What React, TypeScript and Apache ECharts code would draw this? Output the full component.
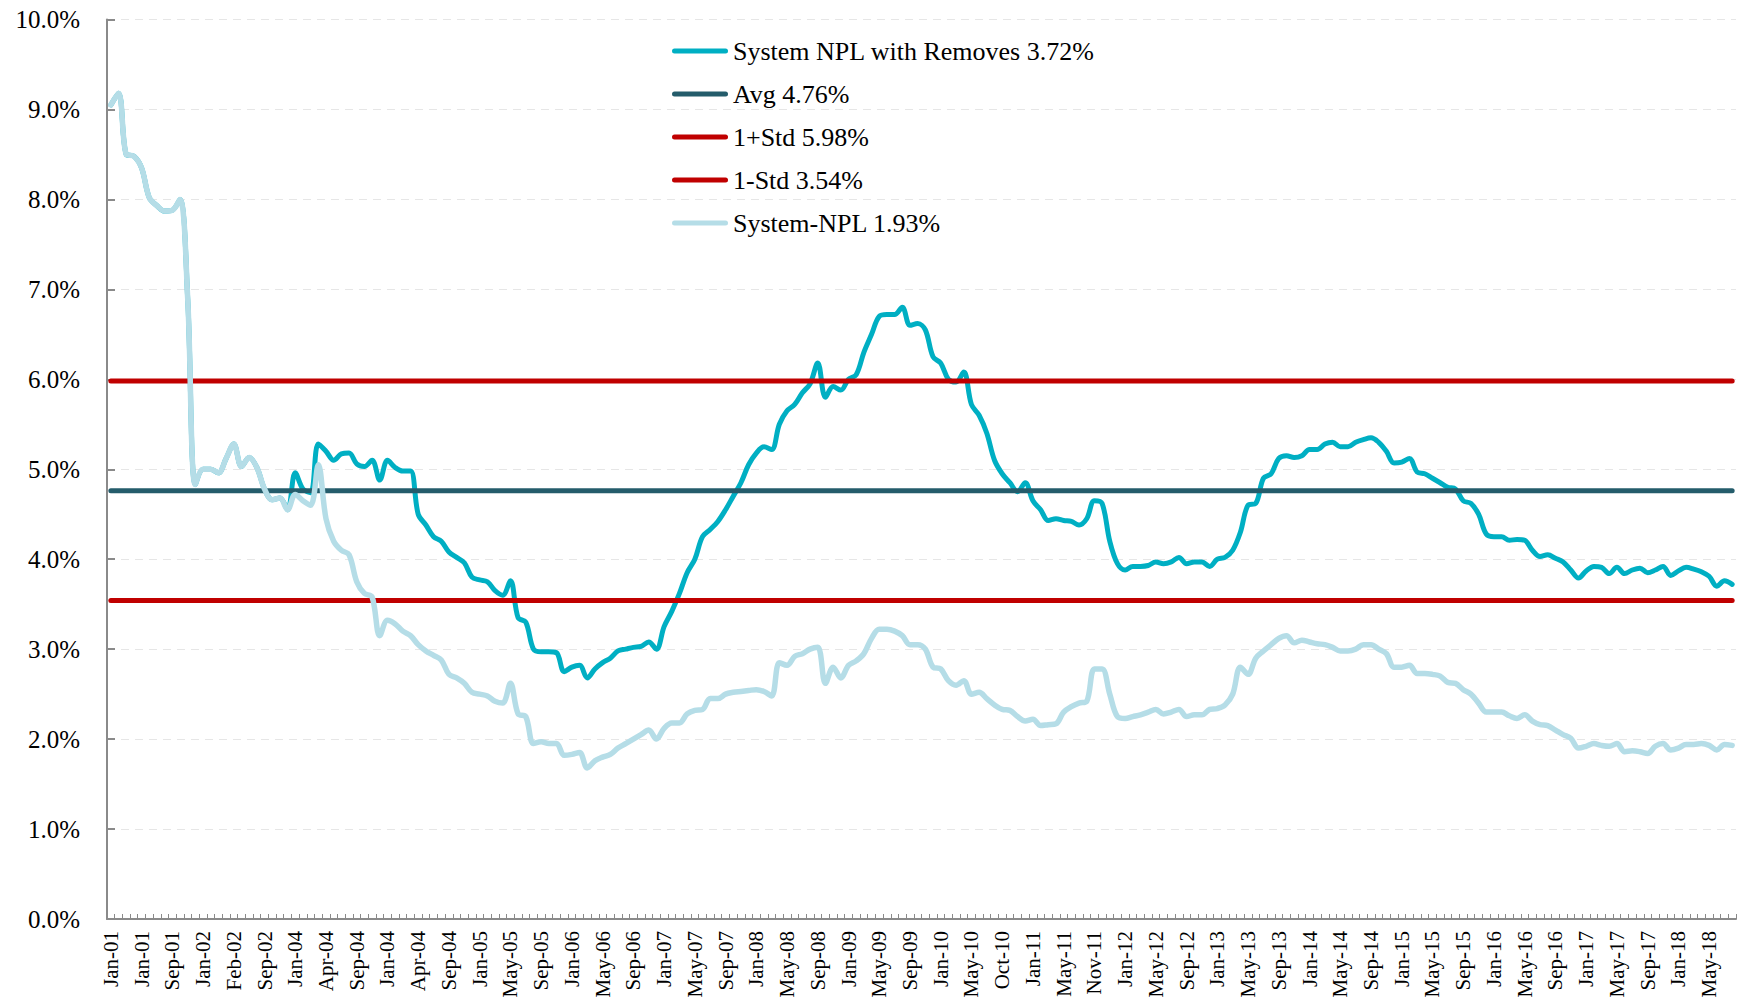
import React, { useEffect, useRef } from "react";
import * as echarts from "echarts";

const MONTH_NAMES = ["Jan", "Feb", "Mar", "Apr", "May", "Jun", "Jul", "Aug", "Sep", "Oct", "Nov", "Dec"];
const N_MONTHS = 212;
const CATEGORIES = Array.from({ length: N_MONTHS }, (_, i) =>
  MONTH_NAMES[i % 12] + "-" + String(1 + Math.floor(i / 12)).padStart(2, "0")
);

const TICK_LABELS = [
  "Jan-01", "Jan-01", "Sep-01", "Jan-02", "Feb-02", "Sep-02", "Jan-04", "Apr-04", "Sep-04", "Jan-04",
  "Apr-04", "Sep-04", "Jan-05", "May-05", "Sep-05", "Jan-06", "May-06", "Sep-06", "Jan-07", "May-07",
  "Sep-07", "Jan-08", "May-08", "Sep-08", "Jan-09", "May-09", "Sep-09", "Jan-10", "May-10", "Oct-10",
  "Jan-11", "May-11", "Nov-11", "Jan-12", "May-12", "Sep-12", "Jan-13", "May-13", "Sep-13", "Jan-14",
  "May-14", "Sep-14", "Jan-15", "May-15", "Sep-15", "Jan-16", "May-16", "Sep-16", "Jan-17", "May-17",
  "Sep-17", "Jan-18", "May-18",
];

// System NPL with Removes (%)
const NPL_REMOVES = [
  9.05, 9.18, 8.5, 8.48, 8.35, 8.02, 7.93, 7.87, 7.88, 8.0,
  6.9, 4.83, 5.0, 5.0, 4.96, 5.12, 5.28, 5.03, 5.13, 5.02,
  4.78, 4.66, 4.68, 4.55, 4.96, 4.78, 4.74, 5.28, 5.2, 5.1,
  5.17, 5.18, 5.06, 5.03, 5.1, 4.88, 5.1, 5.02, 4.98, 4.98,
  4.5, 4.38, 4.25, 4.2, 4.08, 4.02, 3.96, 3.8, 3.77, 3.75,
  3.65, 3.6, 3.76, 3.35, 3.3, 3.0, 2.97, 2.97, 2.96, 2.75,
  2.8, 2.82, 2.68, 2.78, 2.85, 2.9, 2.98, 3.0, 3.02, 3.03,
  3.08, 3.0, 3.25, 3.42, 3.62, 3.85, 4.0, 4.25, 4.33, 4.42,
  4.55, 4.7, 4.85, 5.05, 5.18, 5.25, 5.22, 5.5, 5.65, 5.72,
  5.85, 5.95, 6.18, 5.8, 5.92, 5.88, 6.0, 6.05, 6.3, 6.5,
  6.7, 6.72, 6.72, 6.8, 6.6, 6.62, 6.55, 6.25, 6.18, 6.0,
  5.97, 6.08, 5.72, 5.6, 5.4, 5.1, 4.95, 4.85, 4.75, 4.85,
  4.65, 4.55, 4.43, 4.45, 4.43, 4.42, 4.38, 4.45, 4.65, 4.62,
  4.2, 3.95, 3.88, 3.92, 3.92, 3.93, 3.97, 3.95, 3.97, 4.02,
  3.95, 3.97, 3.97, 3.92, 4.0, 4.02, 4.1, 4.3, 4.6, 4.62,
  4.9, 4.95, 5.12, 5.15, 5.13, 5.15, 5.22, 5.22, 5.28, 5.3,
  5.25, 5.25, 5.3, 5.33, 5.35, 5.3, 5.2, 5.07, 5.08, 5.12,
  4.97, 4.95, 4.9, 4.85, 4.8, 4.78, 4.65, 4.62, 4.5, 4.28,
  4.25, 4.25, 4.21, 4.22, 4.21, 4.1, 4.03, 4.05, 4.01, 3.97,
  3.88, 3.79, 3.87, 3.92, 3.91, 3.84, 3.91, 3.84, 3.88, 3.9,
  3.85, 3.88, 3.92, 3.82, 3.87, 3.91, 3.89, 3.86, 3.81, 3.7,
  3.76, 3.72,
];

// System-NPL (%)
const SYSTEM_NPL = [
  9.05, 9.18, 8.5, 8.48, 8.35, 8.02, 7.93, 7.87, 7.88, 8.0,
  6.9, 4.83, 5.0, 5.0, 4.96, 5.12, 5.28, 5.03, 5.13, 5.02,
  4.78, 4.66, 4.68, 4.55, 4.72, 4.65, 4.6, 5.05, 4.45, 4.2,
  4.1, 4.05, 3.75, 3.62, 3.58, 3.15, 3.32, 3.28, 3.2, 3.15,
  3.05, 2.98, 2.93, 2.88, 2.72, 2.68, 2.62, 2.52, 2.5, 2.48,
  2.42, 2.4, 2.62, 2.28, 2.25, 1.95, 1.97, 1.95, 1.95, 1.82,
  1.83, 1.85, 1.68, 1.76, 1.8, 1.83, 1.9, 1.95, 2.0, 2.05,
  2.1, 2.0, 2.12, 2.18, 2.18, 2.28, 2.32, 2.33, 2.45, 2.45,
  2.5, 2.52, 2.53, 2.54, 2.55, 2.53, 2.48, 2.85, 2.82, 2.92,
  2.95, 3.0, 3.02, 2.62, 2.8, 2.68, 2.82, 2.87, 2.95, 3.12,
  3.22, 3.22, 3.2, 3.15, 3.05, 3.05, 3.0, 2.8, 2.78, 2.65,
  2.6, 2.65, 2.5, 2.52, 2.45, 2.38, 2.33, 2.32, 2.25, 2.2,
  2.22, 2.15, 2.16, 2.17, 2.3, 2.36, 2.4, 2.42, 2.78, 2.78,
  2.5, 2.25, 2.23, 2.25, 2.27, 2.3, 2.33, 2.28, 2.3, 2.33,
  2.25, 2.27, 2.27, 2.33, 2.34, 2.38, 2.5, 2.8, 2.72, 2.9,
  2.98, 3.05, 3.12, 3.15, 3.07, 3.1, 3.08, 3.06, 3.05, 3.02,
  2.98, 2.98, 3.0, 3.05, 3.05, 3.0, 2.95, 2.8, 2.8, 2.82,
  2.73, 2.73, 2.72, 2.7, 2.63, 2.62, 2.55, 2.5, 2.4, 2.3,
  2.3, 2.3, 2.26, 2.23, 2.27, 2.2, 2.16, 2.15, 2.1, 2.05,
  2.01, 1.9, 1.92, 1.95, 1.93, 1.92, 1.95, 1.86, 1.87, 1.86,
  1.84, 1.92, 1.95, 1.88, 1.9, 1.94, 1.94, 1.95, 1.93, 1.88,
  1.94, 1.93,
];

const AVG = 4.76;
const PLUS_STD = 5.98;
const MINUS_STD = 3.54;

const Y_TICKS = [0, 1, 2, 3, 4, 5, 6, 7, 8, 9, 10];

const FONT = "'Liberation Serif', 'Times New Roman', serif";

function hLine(v: number) {
  return [
    [0, v],
    [N_MONTHS - 1, v],
  ];
}

export default function App() {
  const ref = useRef<HTMLDivElement>(null);

  useEffect(() => {
    if (!ref.current) return;
    const chart = echarts.init(ref.current, undefined, { renderer: "svg" });
    const capsule = "path://M2.5,0H53.5A2.5,2.5,0,0,1,53.5,5H2.5A2.5,2.5,0,0,1,2.5,0Z";
    chart.setOption({
      animation: false,
      backgroundColor: "#ffffff",
      textStyle: { fontFamily: FONT },
      grid: { left: 107, right: 5, top: 19.5, bottom: 87, containLabel: false },
      legend: {
        orient: "vertical",
        left: 672,
        top: 38,
        padding: 0,
        itemWidth: 56,
        itemHeight: 5,
        itemGap: 17,
        selectedMode: false,
        textStyle: { fontFamily: FONT, fontSize: 26, color: "#000" },
        data: [
          { name: "System NPL with Removes 3.72%", icon: capsule },
          { name: "Avg 4.76%", icon: capsule },
          { name: "1+Std 5.98%", icon: capsule },
          { name: "1-Std 3.54%", icon: capsule },
          { name: "System-NPL 1.93%", icon: capsule },
        ],
      },
      xAxis: {
        type: "category",
        data: CATEGORIES,
        boundaryGap: true,
        axisLine: { lineStyle: { color: "#8a8a8a", width: 2 } },
        axisTick: { show: true, interval: 0, inside: true, length: 5, lineStyle: { color: "#8a8a8a", width: 1 } },
        axisLabel: {
          interval: 3,
          rotate: 90,
          margin: 12,
          fontFamily: FONT,
          fontSize: 21,
          color: "#000",
          formatter: (_v: string, idx: number) => (idx % 4 === 0 ? TICK_LABELS[idx / 4] ?? "" : ""),
        },
        splitLine: { show: false },
      },
      yAxis: {
        type: "value",
        min: Y_TICKS[0],
        max: Y_TICKS[Y_TICKS.length - 1],
        interval: 1,
        axisLine: { show: true, lineStyle: { color: "#8a8a8a", width: 2 } },
        axisTick: { show: true, inside: true, length: 8, lineStyle: { color: "#8a8a8a", width: 2 } },
        axisLabel: {
          margin: 27,
          fontFamily: FONT,
          fontSize: 25,
          color: "#000",
          formatter: (v: number) => v.toFixed(1) + "%",
        },
        splitLine: { show: true, lineStyle: { color: "#e6e6e6", width: 1, type: [8, 6] } },
      },
      series: [
        {
          name: "System NPL with Removes 3.72%",
          type: "line",
          data: NPL_REMOVES,
          smooth: 0.35,
          showSymbol: false,
          symbol: "none",
          color: "#00AFC3",
          lineStyle: { color: "#00AFC3", width: 5, cap: "round", join: "round" },
          z: 2,
        },
        {
          name: "Avg 4.76%",
          type: "line",
          data: hLine(AVG),
          symbol: "none",
          color: "#245C6B",
          lineStyle: { color: "#245C6B", width: 5, cap: "round" },
          z: 3,
        },
        {
          name: "1+Std 5.98%",
          type: "line",
          data: hLine(PLUS_STD),
          symbol: "none",
          color: "#C00000",
          lineStyle: { color: "#C00000", width: 5, cap: "round" },
          z: 3,
        },
        {
          name: "1-Std 3.54%",
          type: "line",
          data: hLine(MINUS_STD),
          symbol: "none",
          color: "#C00000",
          lineStyle: { color: "#C00000", width: 5, cap: "round" },
          z: 3,
        },
        {
          name: "System-NPL 1.93%",
          type: "line",
          data: SYSTEM_NPL,
          smooth: 0.35,
          showSymbol: false,
          symbol: "none",
          color: "#B5DDE7",
          lineStyle: { color: "#B5DDE7", width: 5.5, cap: "round", join: "round" },
          z: 4,
        },
      ],
    });
    return () => chart.dispose();
  }, []);

  return (
    <div
      ref={ref}
      style={{ position: "fixed", left: 0, top: 0, width: 1741, height: 1006, background: "#fff" }}
    />
  );
}
